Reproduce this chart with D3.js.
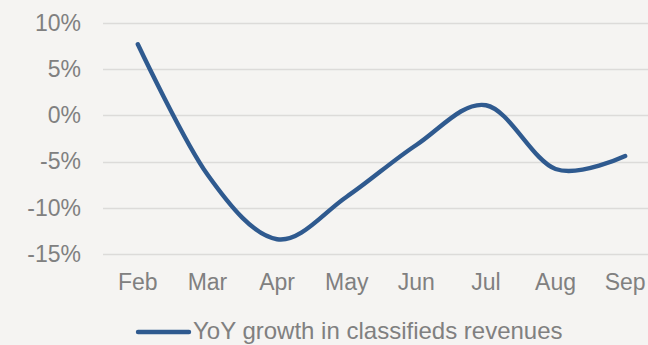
<!DOCTYPE html>
<html>
<head>
<meta charset="utf-8">
<script src="https://cdn.jsdelivr.net/npm/d3@7/dist/d3.min.js"></script>
<style>
  html, body { margin: 0; padding: 0; background: #f5f4f2; overflow: hidden; }
  svg { display: block; }
  text { font-family: "Liberation Sans", Arial, sans-serif; fill: #808080; }
</style>
</head>
<body>
<svg id="chart" width="648" height="345"></svg>
<script>
// Monthly year-on-year growth of classifieds revenues (%)
const months = ["Feb", "Mar", "Apr", "May", "Jun", "Jul", "Aug", "Sep"];
const growth = [7.7, -6.4, -13.4, -8.8, -3.2, 1.1, -5.8, -4.4];
const yTicks = [10, 5, 0, -5, -10, -15];
const seriesName = "YoY growth in classifieds revenues";

const svg = d3.select("#chart");
const W = 648, H = 345;

const plot = { left: 103, right: 660, top: 23, bottom: 254 };

const x = d3.scaleBand().domain(months).range([plot.left, plot.right]).paddingInner(0).paddingOuter(0);
const y = d3.scaleLinear().domain([-15, 10]).range([plot.bottom, plot.top]);

// horizontal gridlines
svg.append("g")
  .selectAll("line")
  .data(yTicks)
  .join("line")
  .attr("x1", plot.left)
  .attr("x2", W)
  .attr("y1", d => Math.round(y(d)) + 0.5)
  .attr("y2", d => Math.round(y(d)) + 0.5)
  .attr("stroke", "#dcdbd9")
  .attr("stroke-width", 1.3);

// y axis labels
const yAxis = d3.axisLeft(y).tickValues(yTicks).tickFormat(d => d + "%").tickSize(0).tickPadding(0);
const gy = svg.append("g").attr("transform", `translate(81,0)`).call(yAxis);
gy.select(".domain").remove();
gy.selectAll("text")
  .attr("font-size", 23)
  .attr("fill", "#808080")
  .attr("font-family", "Liberation Sans, Arial, sans-serif");

// x axis labels
const xAxis = d3.axisBottom(x).tickSize(0).tickPadding(0);
const gx = svg.append("g").attr("transform", `translate(0,${plot.bottom + 20})`).call(xAxis);
gx.select(".domain").remove();
gx.selectAll("text")
  .attr("font-size", 23)
  .attr("fill", "#808080")
  .attr("font-family", "Liberation Sans, Arial, sans-serif");

// smoothed series line
const line = d3.line()
  .x((d, i) => x(months[i]) + x.bandwidth() / 2)
  .y(d => y(d))
  .curve(d3.curveCardinal.tension(0));

svg.append("path")
  .datum(growth)
  .attr("d", line)
  .attr("fill", "none")
  .attr("stroke", "#2f5a8f")
  .attr("stroke-width", 4.4)
  .attr("stroke-linecap", "round")
  .attr("stroke-linejoin", "round");

// legend
const lg = svg.append("g");
lg.append("line")
  .attr("x1", 138).attr("x2", 189)
  .attr("y1", 332).attr("y2", 332)
  .attr("stroke", "#2f5a8f")
  .attr("stroke-width", 4.4)
  .attr("stroke-linecap", "round");
lg.append("text")
  .attr("x", 193)
  .attr("y", 339)
  .attr("font-size", 24)
  .text(seriesName);
</script>
</body>
</html>
